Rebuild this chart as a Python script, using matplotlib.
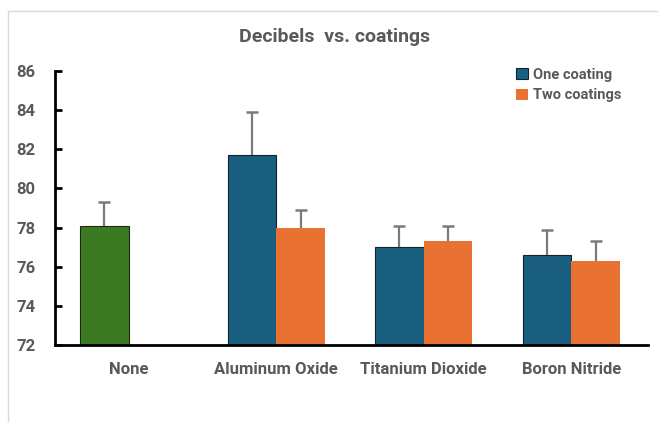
import matplotlib.pyplot as plt
import numpy as np
from matplotlib.patches import Rectangle

categories = ['None', 'Aluminum Oxide', 'Titanium Dioxide', 'Boron Nitride']
none_val = [78.1]
none_err = [1.2]
one_coat = [81.7, 77.0, 76.6]
one_err = [2.2, 1.1, 1.3]
two_coat = [78.0, 77.3, 76.3]
two_err = [0.9, 0.8, 1.0]

GRAY = '#595959'
BLUE = '#1a5f80'
ORANGE = '#e97132'
GREEN = '#3b7a23'
ERR = '#7a7a7a'

plt.rcParams['font.family'] = ['Roboto', 'DejaVu Sans']

px = 1 / 100
fig = plt.figure(figsize=(658 * px, 422 * px), dpi=100)
fig.patches.append(Rectangle((8 / 658, -0.1), 1.2, 1 - 11 / 422 + 0.1,
                             transform=fig.transFigure, fill=False,
                             edgecolor='#d9d9d9', linewidth=1))
ax = fig.add_axes([55 / 658, 77 / 422, 593 / 658, 274 / 422])

w = 0.33
x = np.arange(len(categories))


def upper_err(xs, ys, errs):
    # only the upper half of the error bar, cap on top
    xs = np.asarray(xs)
    tops = np.asarray(ys) + np.asarray(errs)
    ax.vlines(xs, ys, tops, color=ERR, linewidth=1.6, zorder=3)
    ax.plot(xs, tops, '_', color=ERR, markersize=8, markeredgewidth=1.8, zorder=3)


ax.bar(x[:1] - w / 2, none_val, w, color=GREEN, edgecolor='#1c2a12', linewidth=0.8, zorder=2)
ax.bar(x[1:] - w / 2, one_coat, w, color=BLUE, edgecolor='#10222c', linewidth=0.8,
       label='One coating', zorder=2)
ax.bar(x[1:] + w / 2, two_coat, w, color=ORANGE, linewidth=0,
       label='Two coatings', zorder=2)
upper_err(x[:1] - w / 2, none_val, none_err)
upper_err(x[1:] - w / 2, one_coat, one_err)
upper_err(x[1:] + w / 2, two_coat, two_err)

ax.set_ylim(72, 86)
ax.set_xlim(-0.5, 3.52)
ax.set_yticks(range(72, 87, 2))
ax.set_xticks(x)
ax.set_xticklabels(categories)

for s in ['top', 'right']:
    ax.spines[s].set_visible(False)
for s in ['left', 'bottom']:
    ax.spines[s].set_linewidth(2)
    ax.spines[s].set_color('black')

ax.tick_params(axis='y', direction='in', length=5, width=2, pad=14,
               labelsize=12, labelcolor=GRAY)
ax.tick_params(axis='x', length=0, pad=12, labelsize=12, labelcolor=GRAY)
for lab in ax.get_xticklabels() + ax.get_yticklabels():
    lab.set_fontweight('bold')

fig.text(0.508, 0.912, 'Decibels  vs. coatings', ha='center', va='center',
         fontsize=14, fontweight='bold', color=GRAY)

leg = ax.legend(loc='upper left', bbox_to_anchor=(0.755, 1.06), frameon=False,
                handlelength=0.8, handleheight=0.8, handletextpad=0.4,
                labelspacing=0.45, prop={'weight': 'bold', 'size': 10.5})
for t in leg.get_texts():
    t.set_color(GRAY)

fig.savefig('out.png', dpi=100)
